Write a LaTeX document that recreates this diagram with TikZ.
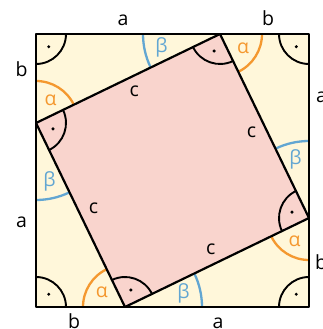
\documentclass[tikz,border=0pt]{standalone}
\usepackage{fontspec}
\setmainfont{Open Sans}
\usetikzlibrary{angles,calc}
\definecolor{creamfill}{HTML}{FFF7DA}
\definecolor{rosefill}{HTML}{F9D4CD}
\definecolor{alphaline}{HTML}{F4982F}
\definecolor{betaline}{HTML}{62A6D2}
\newcommand{\diagfont}{\fontsize{19.5}{22}\selectfont}
\tikzset{sideline/.style={draw=black, line width=2.2pt, line join=round},
  lbl/.style={font=\diagfont, inner sep=0pt},
  rmark/.style={draw=black, line width=1.9pt, angle radius=30pt, angle eccentricity=.6, pic text={\relax}, pic text options={circle, fill=black, inner sep=0pt, minimum size=3.4pt}},
  amark/.style={draw=alphaline, line width=2.3pt, angle radius=42pt, angle eccentricity=.65, pic text={α}, pic text options={font=\diagfont, text=alphaline}},
  bmark/.style={draw=betaline, line width=2.3pt, angle radius=77pt, angle eccentricity=.78, pic text={β}, pic text options={font=\diagfont, text=betaline}}}

\begin{document}
\begin{tikzpicture}[x=1pt, y=1pt]
\useasboundingbox (0,0) rectangle (323,329);
\coordinate (BL) at (36,22);
\coordinate (BR) at (309,22);
\coordinate (TR) at (309,295);
\coordinate (TL) at (36,295);
\coordinate (qT) at (220,295);
\coordinate (qL) at (36,206);
\coordinate (qB) at (125,22);
\coordinate (qR) at (309,111);
\fill[creamfill] (BL) rectangle (TR);
\fill[rosefill] (qT) -- (qL) -- (qB) -- (qR) -- cycle;
% right angles
\foreach \u/\v/\w in {qL/TL/qT, qT/TR/qR, qR/BR/qB, qB/BL/qL, qL/qT/qR, qT/qR/qB, qR/qB/qL, qB/qL/qT}
  \pic[rmark] {angle=\u--\v--\w};
% alpha and beta
\foreach \u/\v/\w in {qT/qL/TL, qR/qT/TR, qB/qR/BR, qL/qB/BL}
  \pic[amark] {angle=\u--\v--\w};
\foreach \u/\v/\w in {TL/qT/qL, TR/qR/qT, BR/qB/qR, BL/qL/qB}
  \pic[bmark] {angle=\u--\v--\w};
\draw[sideline] (BL) rectangle (TR);
\draw[sideline] (qT) -- (qL) -- (qB) -- (qR) -- cycle;
\foreach \u/\v in {qT/qL, qL/qB, qB/qR, qR/qT}
  \node[lbl] (c\u) at ($(\u)!.5!(\v)!14.5pt!90:(\v)$) {c};
\node[lbl, anchor=base] (aTop) at (123,303.5) {a};
\node[lbl, anchor=base] (bTop) at (268,303.5) {b};
\node[lbl, anchor=base] (bLeft) at (21.5,252) {b};
\node[lbl, anchor=base] (aLeft) at (21.5,101) {a};
\node[lbl, anchor=base] (aRight) at (321.5,226) {a};
\node[lbl, anchor=base] (bRight) at (321,59) {b};
\node[lbl, anchor=base] (bBot) at (74,1) {b};
\node[lbl, anchor=base] (aBot) at (218,1) {a};
\end{tikzpicture}
\end{document}
